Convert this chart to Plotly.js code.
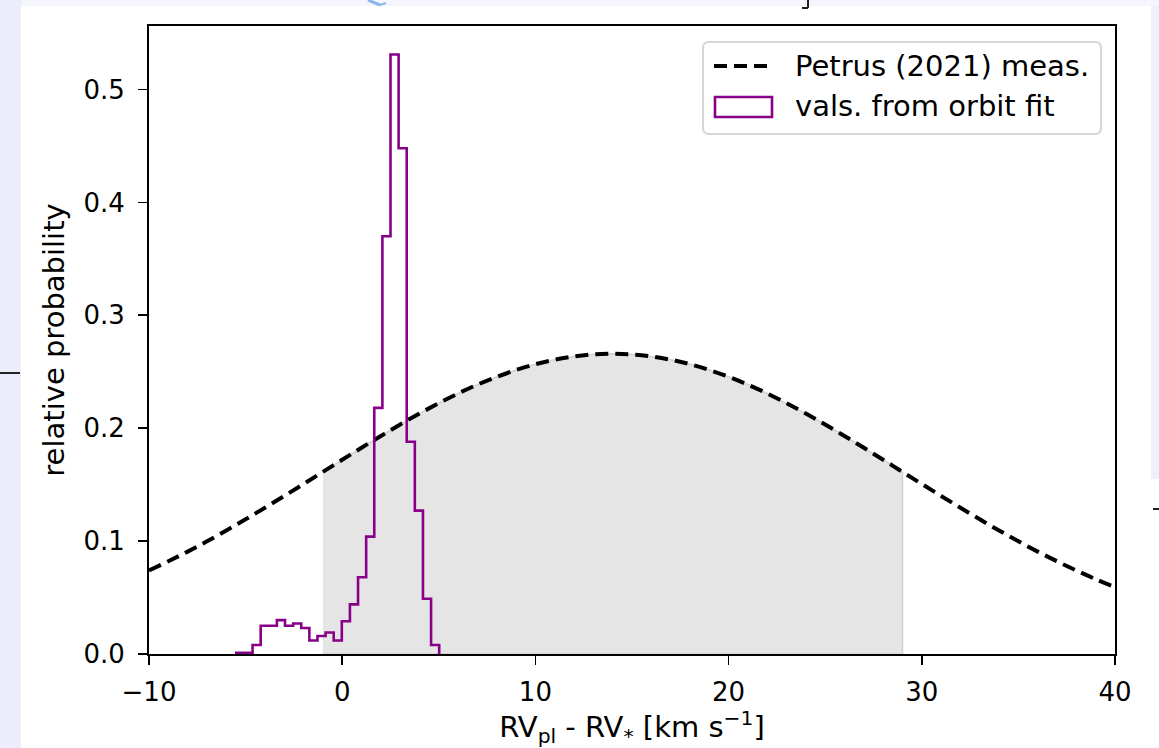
<!DOCTYPE html>
<html>
<head>
<meta charset="utf-8">
<script src="https://cdn.plot.ly/plotly-3.0.1.min.js"></script>
<style>html,body{margin:0;padding:0;background:#fff;}#chart{width:1159px;height:748px;}</style>
</head>
<body>
<div id="chart"></div>
<script>
// ---- data ----
const gaussX = [-10,-9,-8,-7,-6,-5,-4,-3,-2,-1,0,1,2,3,4,5,6,7,8,9,10,11,12,13,14,15,16,17,18,19,20,21,22,23,24,25,26,27,28,29,30,31,32,33,34,35,36,37,38,39,40];
const gaussY = [0.0740,0.0821,0.0907,0.0998,0.1094,0.1193,0.1295,0.1400,0.1506,0.1613,0.1721,0.1827,0.1931,0.2033,0.2130,0.2222,0.2308,0.2386,0.2455,0.2516,0.2567,0.2607,0.2636,0.2654,0.2660,0.2654,0.2636,0.2607,0.2567,0.2516,0.2455,0.2386,0.2308,0.2222,0.2130,0.2033,0.1931,0.1827,0.1721,0.1613,0.1506,0.1400,0.1295,0.1193,0.1094,0.0998,0.0907,0.0821,0.0740,0.0663,0.0592];
const shadeLo = -1;
const shadeHi = 29;
const binEdges = [-5.48,-5.06,-4.64,-4.22,-3.80,-3.38,-2.96,-2.54,-2.12,-1.70,-1.28,-0.86,-0.44,-0.02,0.40,0.82,1.24,1.66,2.08,2.50,2.92,3.34,3.76,4.18,4.60,5.02];
const histVals = [0.001,0.001,0.008,0.025,0.025,0.030,0.025,0.027,0.023,0.012,0.016,0.019,0.012,0.029,0.044,0.068,0.104,0.218,0.370,0.531,0.448,0.188,0.127,0.049,0.008];
const xTicks = [-10,0,10,20,30,40];
const yTicks = [0.0,0.1,0.2,0.3,0.4,0.5];
const legendLabels = ["Petrus (2021) meas.", "vals. from orbit fit"];

// ---- build traces ----
const shadeX = [], shadeY = [];
gaussX.forEach((x,i)=>{ if (x>=shadeLo && x<=shadeHi){ shadeX.push(x); shadeY.push(gaussY[i]); }});
shadeX.push(shadeHi, shadeLo); shadeY.push(0, 0);

const stepX = [binEdges[0]], stepY = [0];
histVals.forEach((v,k)=>{ stepX.push(binEdges[k], binEdges[k+1]); stepY.push(v, v); });
stepX.push(binEdges[binEdges.length-1]); stepY.push(0);

const FONT = 'DejaVu Sans, sans-serif';
const PURPLE = '#880088';
const traces = [
  {x: shadeX, y: shadeY, type:'scatter', mode:'lines', fill:'toself', fillcolor:'#e5e5e5',
   line:{color:'#d0d0d0', width:1.5}, hoverinfo:'skip', showlegend:false},
  {x: gaussX, y: gaussY, type:'scatter', mode:'lines', line:{color:'#000', width:4, dash:'13px,7px', shape:'spline'},
   name: legendLabels[0], showlegend:false},
  {x: stepX, y: stepY, type:'scatter', mode:'lines', line:{color:PURPLE, width:2.6},
   name: legendLabels[1], showlegend:false}
];

// ---- pixel helpers for decoration ----
const L=149, R=1115, T=26, B=654;
const px = x => (x-L)/(R-L);
const py = y => (B-y)/(B-T);
function rect(x0,y0,x1,y1,fill){ return {type:'rect', xref:'paper', yref:'paper', x0:px(x0), x1:px(x1), y0:py(y1), y1:py(y0), fillcolor:fill, line:{width:0}, layer:'below'}; }
function seg(x0,y0,x1,y1,color,w,dash){ return {type:'line', xref:'paper', yref:'paper', x0:px(x0), x1:px(x1), y0:py(y0), y1:py(y1), line:{color:color, width:w, dash:dash||'solid'}}; }

const shapes = [
  rect(0,0,21,748,'#ebeefa'),
  rect(21,0,1159,6,'#f4f5fd'),
  rect(1151,6,1159,479,'#eef0fb'),
  seg(0,373,20,373,'#222',2),
  seg(1153,509,1159,509,'#222',2),
  seg(808,0,808,8,'#222',2),
  seg(802,8,808,8,'#222',2),
  seg(368,0,380,5,'#8ab8ea',3),
  seg(380,5,386,3,'#8ab8ea',2),
  // legend box
  {type:'path', xref:'paper', yref:'paper',
   path: (function(){ const x0=703,y0=42,x1=1101,y1=134,r=6;
     const P=(x,y)=>px(x)+','+py(y);
     return 'M'+P(x0+r,y0)+' L'+P(x1-r,y0)+' Q'+P(x1,y0)+' '+P(x1,y0+r)+' L'+P(x1,y1-r)+' Q'+P(x1,y1)+' '+P(x1-r,y1)+' L'+P(x0+r,y1)+' Q'+P(x0,y1)+' '+P(x0,y1-r)+' L'+P(x0,y0+r)+' Q'+P(x0,y0)+' '+P(x0+r,y0)+' Z'; })(),
   fillcolor:'rgba(255,255,255,0.85)', line:{color:'#d6d6d6', width:2}},
  seg(714,66,774,66,'#000',4,'13px,7px'),
  {type:'rect', xref:'paper', yref:'paper', x0:px(715), x1:px(772), y0:py(117), y1:py(97), fillcolor:'rgba(0,0,0,0)', line:{color:PURPLE, width:2.6}}
];

const annotations = [
  {xref:'paper', yref:'paper', x:px(793), y:py(66), text:legendLabels[0], showarrow:false, xanchor:'left', yanchor:'middle', font:{family:FONT, size:29, color:'#000'}},
  {xref:'paper', yref:'paper', x:px(793), y:py(106), text:legendLabels[1], showarrow:false, xanchor:'left', yanchor:'middle', font:{family:FONT, size:29, color:'#000'}}
];

const layout = {
  width:1159, height:748, autosize:false,
  margin:{l:L, r:1159-R, t:T, b:748-B, pad:0},
  paper_bgcolor:'#ffffff', plot_bgcolor:'rgba(0,0,0,0)',
  font:{family:FONT, size:26, color:'#000'},
  showlegend:false,
  xaxis:{range:[-10,40], tickvals:xTicks, ticks:'outside', ticklen:9, tickwidth:1.8, tickcolor:'#000',
    showline:true, linecolor:'#000', linewidth:2, mirror:true, showgrid:false, zeroline:false,
    ticklabelstandoff:5, tickfont:{family:FONT, size:26, color:'#000'},
    title:{text:'RV<sub>pl</sub> - RV<sub>*</sub> [km s<sup>−1</sup>]', font:{family:FONT, size:29, color:'#000'}, standoff:4}},
  yaxis:{range:[0,0.5563], tickvals:yTicks, tickformat:'.1f', ticks:'outside', ticklen:9, tickwidth:1.8, tickcolor:'#000',
    showline:true, linecolor:'#000', linewidth:2, mirror:true, showgrid:false, zeroline:false,
    ticklabelstandoff:8, tickfont:{family:FONT, size:26, color:'#000'},
    title:{text:'relative probability', font:{family:FONT, size:29, color:'#000'}, standoff:10}},
  shapes: shapes,
  annotations: annotations
};

Plotly.newPlot('chart', traces, layout, {staticPlot:true, displayModeBar:false});
</script>
</body>
</html>
